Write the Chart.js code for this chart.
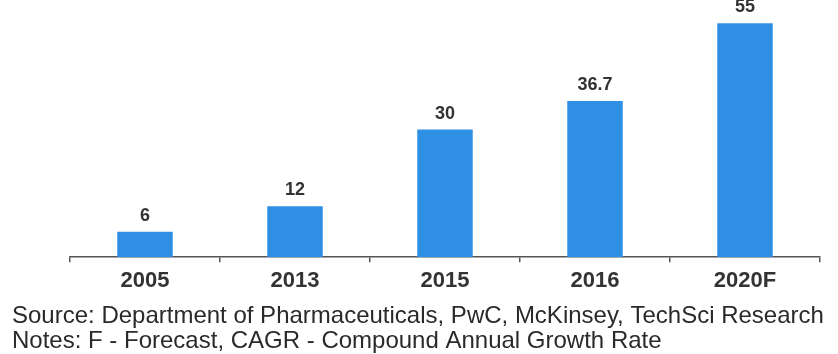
<!DOCTYPE html>
<html>
<head>
<meta charset="utf-8">
<style>
  html, body { margin: 0; padding: 0; background: #fff; }
  #wrap { width: 838px; height: 354px; }
</style>
<script src="https://cdn.jsdelivr.net/npm/chart.js@4/dist/chart.umd.min.js"></script>
</head>
<body>
<div id="wrap"><canvas id="marketChart" width="838" height="354"></canvas></div>
<script>
  'use strict';

  // data
  var years = ['2005', '2013', '2015', '2016', '2020F'];
  var marketValues = [6, 12, 30, 36.7, 55];
  var valueLabels = ['6', '12', '30', '36.7', '55'];
  var footNotes = [
    'Source: Department of Pharmaceuticals, PwC, McKinsey, TechSci Research',
    'Notes: F - Forecast, CAGR - Compound Annual Growth Rate'
  ];

  var FONT = '"Liberation Sans", Arial, sans-serif';

  // draw the numbers above each bar
  var barValuePlugin = {
    id: 'barValues',
    afterDatasetsDraw: function (chart) {
      var ctx = chart.ctx;
      var meta = chart.getDatasetMeta(0);
      ctx.save();
      ctx.font = 'bold 18px ' + FONT;
      ctx.fillStyle = '#333333';
      ctx.textAlign = 'center';
      ctx.textBaseline = 'alphabetic';
      meta.data.forEach(function (bar, i) {
        ctx.fillText(valueLabels[i], bar.x, bar.y - 11);
      });
      ctx.restore();
    }
  };

  // hidden axes, only used to reserve room left and right of the bars
  function spacer(width) {
    return function (scale) {
      scale.width = width;
    };
  }

  var chart = new Chart(document.getElementById('marketChart').getContext('2d'), {
    type: 'bar',
    data: {
      labels: years,
      datasets: [{
        data: marketValues,
        backgroundColor: '#2f8fe4',
        borderWidth: 0,
        categoryPercentage: 1,
        barPercentage: 0.37
      }]
    },
    options: {
      responsive: false,
      animation: false,
      layout: {
        padding: { top: 2, left: 12, right: 2, bottom: 0 }
      },
      plugins: {
        legend: { display: false },
        tooltip: { enabled: false },
        title: {
          display: true,
          position: 'bottom',
          align: 'start',
          text: footNotes,
          color: '#2a2a2a',
          font: { family: FONT, size: 24, weight: 'normal', lineHeight: 1.04 },
          padding: { top: 3.5, bottom: 0 }
        }
      },
      scales: {
        x: {
          grid: {
            display: true,
            drawOnChartArea: false,
            drawTicks: true,
            tickLength: 5,
            color: '#555555',
            lineWidth: 1.5,
            offset: true
          },
          border: { display: true, color: '#555555', width: 1.5 },
          ticks: {
            color: '#333333',
            padding: 6,
            font: { family: FONT, size: 22, weight: 'bold' }
          }
        },
        y: {
          display: true,
          min: 0,
          max: 60,
          grid: { display: false },
          border: { display: false },
          ticks: { display: false },
          afterFit: spacer(58)
        },
        yRight: {
          display: true,
          position: 'right',
          min: 0,
          max: 60,
          grid: { display: false },
          border: { display: false },
          ticks: { display: false },
          afterFit: spacer(16)
        }
      }
    },
    plugins: [barValuePlugin]
  });
</script>
</body>
</html>
